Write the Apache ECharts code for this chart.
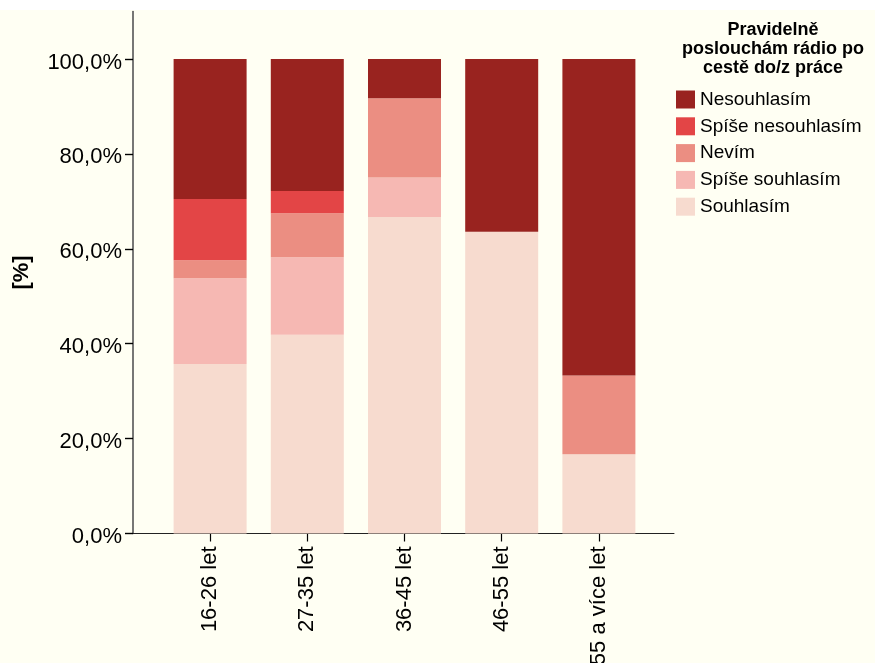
<!DOCTYPE html>
<html>
<head>
<meta charset="utf-8">
<script src="https://cdn.jsdelivr.net/npm/echarts@6/dist/echarts.min.js"></script>
<style>
  html, body { margin: 0; padding: 0; background: #ffffff; }
  #chart {
    width: 875px; height: 663px;
    background: linear-gradient(#ffffff 0, #ffffff 10px, #FFFFF3 10px);
  }
</style>
</head>
<body>
<div id="chart"></div>
<script>
// Age groups (x categories)
const ageGroups = ['16-26 let', '27-35 let', '36-45 let', '46-55 let', '55 a více let'];

// Share of answers per age group, in percent (stacked bottom to top)
const souhlasim        = [35.7, 41.9, 66.7, 63.6, 16.7];
const spiseSouhlasim   = [18.1, 16.3,  8.3,  0.0,  0.0];
const nevim            = [ 3.8,  9.3, 16.7,  0.0, 16.6];
const spiseNesouhlasim = [12.9,  4.7,  0.0,  0.0,  0.0];
const nesouhlasim      = [29.5, 27.8,  8.3, 36.4, 66.7];

// Y axis tick values (percent)
const yTicks = [0, 20, 40, 60, 80, 100];

const seriesNames = ['Souhlasím', 'Spíše souhlasím', 'Nevím', 'Spíše nesouhlasím', 'Nesouhlasím'];
const seriesData = [souhlasim, spiseSouhlasim, nevim, spiseNesouhlasim, nesouhlasim];
const seriesColors = ['#F7DBCF', '#F6B8B3', '#EB8E82', '#E34546', '#99231F'];

const FONT = '"Liberation Sans", Arial, sans-serif';

const chart = echarts.init(document.getElementById('chart'), null, { renderer: 'canvas' });

chart.setOption({
  backgroundColor: 'transparent',
  animation: false,
  textStyle: { fontFamily: FONT },
  grid: [
    // frame grid: carries the visible y axis and the long baseline
    { left: 133, top: 11.5, width: 541, height: 522, outerBoundsMode: 'none', containLabel: false },
    // bar grid: category bands
    { left: 161.5, top: 11.5, width: 486, height: 522, outerBoundsMode: 'none', containLabel: false }
  ],
  xAxis: [
    {
      gridIndex: 0, type: 'value', min: 0, max: 1,
      axisLine: { show: true, lineStyle: { color: '#222222', width: 1 } },
      axisTick: { show: false }, axisLabel: { show: false }, splitLine: { show: false }
    },
    {
      gridIndex: 1, type: 'category', data: ageGroups,
      axisLine: { show: false },
      axisTick: { show: true, alignWithLabel: true, length: 8, lineStyle: { color: '#000000', width: 1.2 } },
      axisLabel: { rotate: 90, margin: 13, fontSize: 22, color: '#000000', fontFamily: FONT },
      splitLine: { show: false }
    }
  ],
  yAxis: [
    {
      gridIndex: 0, type: 'value', min: 0, max: 110,
      name: '[%]', nameLocation: 'middle', nameRotate: 90, nameGap: 100,
      nameTextStyle: { fontSize: 22, fontWeight: 'bold', color: '#000000', fontFamily: FONT },
      axisLine: { show: true, lineStyle: { color: '#555555', width: 1.6 } },
      axisTick: { show: true, length: 8, customValues: yTicks, lineStyle: { color: '#000000', width: 1.4 } },
      axisLabel: {
        customValues: yTicks, margin: 11, color: '#000000', fontFamily: FONT,
        formatter: v => '{v|' + v.toFixed(1).replace('.', ',') + '%}',
        rich: { v: { fontSize: 22, color: '#000000', fontFamily: FONT, padding: [7, 0, 0, 0] } }
      },
      splitLine: { show: false }
    },
    { gridIndex: 1, type: 'value', min: 0, max: 110, show: false }
  ],
  legend: {
    orient: 'vertical',
    left: 671, top: 85,
    itemWidth: 19, itemHeight: 18, itemGap: 7.8,
    icon: 'rect',
    data: seriesNames.slice().reverse(),
    textStyle: { fontSize: 19, color: '#000000', fontFamily: FONT, lineHeight: 18 }
  },
  graphic: [
    {
      type: 'text', x: 773, y: 20.5,
      style: {
        text: 'Pravidelně\nposlouchám rádio po\ncestě do/z práce',
        font: 'bold 18px ' + FONT, lineHeight: 19,
        textAlign: 'center', textVerticalAlign: 'top', fill: '#000000'
      }
    }
  ],
  series: seriesNames.map((name, i) => ({
    name, type: 'bar', stack: 'share',
    xAxisIndex: 1, yAxisIndex: 1,
    barWidth: 73,
    itemStyle: { color: seriesColors[i] },
    data: seriesData[i]
  }))
});
</script>
</body>
</html>
